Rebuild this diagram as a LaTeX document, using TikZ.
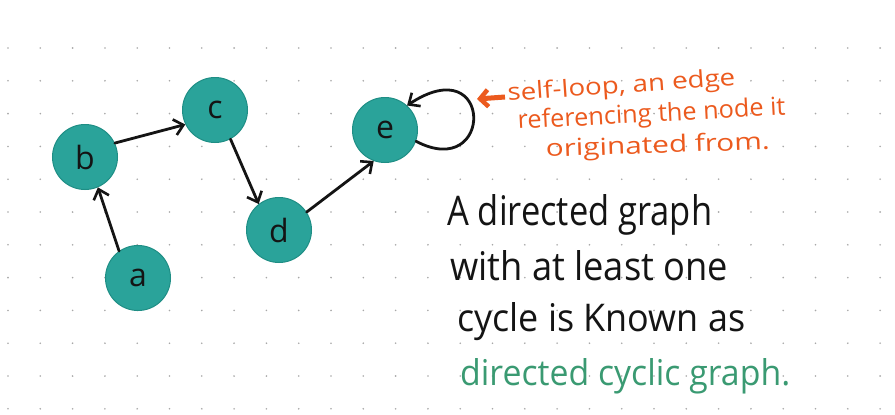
\documentclass[tikz,border=0pt]{standalone}
\usepackage{fontspec}
\setmainfont{Open Sans}
\usetikzlibrary{arrows.meta}
\definecolor{nodeteal}{HTML}{2AA39A}
\definecolor{nodeedge}{HTML}{1F8E85}
\definecolor{noteorange}{HTML}{EC5A1E}
\definecolor{notegreen}{HTML}{3A9A72}
\definecolor{ink}{HTML}{141414}
\definecolor{griddot}{HTML}{A8A8A8}
\tikzset{
  vertex/.style={circle, fill=nodeteal, draw=nodeedge, line width=1pt,
    minimum size=65pt, inner sep=0pt, text=ink,
    font=\fontsize{32}{32}\selectfont},
  link/.style={draw=ink, line width=2.8pt, line cap=round,
    -{Straight Barb[length=9pt,width=16pt,line width=2.6pt]}},
  pointer/.style={draw=noteorange, line width=5pt,
    -{Straight Barb[length=8pt,width=17pt,line width=4.5pt]}},
  blacktext/.style={anchor=base west, inner sep=0pt, text=ink, font=\fontsize{30}{30}\selectfont},
  greentext/.style={blacktext, text=notegreen},
  orangetext/.style={anchor=base west, inner sep=0pt, text=noteorange, font=\fontsize{24}{24}\selectfont},
}
\begin{document}
\begin{tikzpicture}[x=1pt,y=-1pt]
  \useasboundingbox (0,0) rectangle (895,415);
  \fill[white] (0,0) rectangle (895,415);
  % dot grid
  \foreach \i in {0,...,27}{
    \foreach \j in {0,...,11}{
      \fill[griddot] ({8+32.3*\i},{48+32.8*\j}) circle (0.9pt);
    }
  }
  % nodes
  \node[vertex] (a) at (138,278) {a};
  \node[vertex] (b) at (85,157) {b};
  \node[vertex] (c) at (215,110) {c};
  \node[vertex] (d) at (279,230) {d};
  \node[vertex] (e) at (385,130) {e};
  % edges
  \draw[link] (a.125) -- (b.-67);
  \draw[link] (b.25) -- (c.206);
  \draw[link] (c.-62) -- (d.128);
  \draw[link] (d.33) -- (e.250);
  \draw[link] (e.-20) .. controls (494,182) and (494,48) .. (e.48);
  % orange note
  \coordinate (ptrtail) at (505,97);
  \coordinate (ptrtip) at (477,99);
  \draw[pointer] (ptrtail) -- (ptrtip);
  \node[orangetext, rotate=4] (n1) at (508,101) {\resizebox{228pt}{18pt}{self-loop, an edge}};
  \node[orangetext, rotate=3] (n2) at (518,129) {\resizebox{268pt}{19pt}{referencing the node it}};
  \node[orangetext, rotate=2] (n3) at (546,157) {\resizebox{224pt}{18pt}{originated from.}};
  % black text
  \node[blacktext] (t1) at (447,225) {\resizebox{265pt}{31pt}{A directed graph}};
  \node[blacktext] (t2) at (450,280) {\resizebox{278pt}{30pt}{with at least one}};
  \node[blacktext] (t3) at (457,331) {\resizebox{288pt}{29pt}{cycle is Known as}};
  \node[greentext] (t4) at (460,385) {\resizebox{330pt}{27pt}{directed cyclic graph.}};
\end{tikzpicture}
\end{document}
